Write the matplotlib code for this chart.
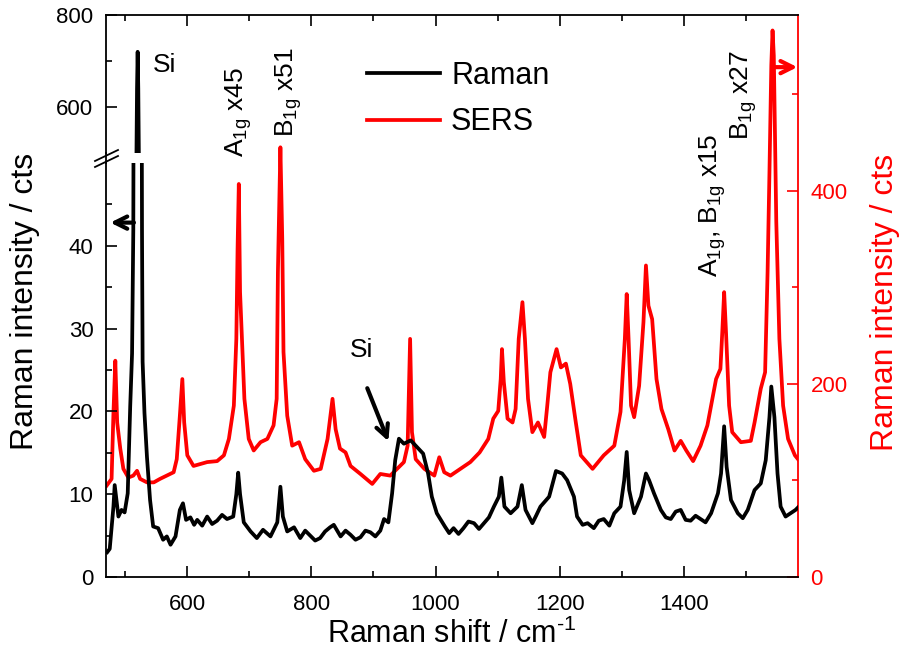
import matplotlib
matplotlib.use('Agg')
import matplotlib.pyplot as plt
from matplotlib.lines import Line2D

plt.rcParams['font.family'] = ['Liberation Sans', 'DejaVu Sans']
plt.rcParams['mathtext.fontset'] = 'custom'
plt.rcParams['mathtext.rm'] = 'Liberation Sans'
plt.rcParams['mathtext.it'] = 'Liberation Sans:italic'

# Raman spectrum (left axis, cts)
raman_x = [471, 475, 481, 483, 489, 494, 499, 504, 508, 511, 513, 515, 517, 519, 520, 521,
           523, 525, 527, 528, 531, 535, 540, 545, 553, 561, 567, 573, 581, 588, 593, 598,
           605, 611, 616, 624, 632, 640, 648, 656, 664, 674, 679, 682, 685, 691, 702, 712,
           722, 734, 745, 750, 754, 761, 772, 782, 790, 798, 806, 814, 822, 830, 836, 847,
           855, 863, 871, 879, 887, 895, 903, 911, 917, 924, 930, 935, 941, 949, 960, 970,
           980, 988, 994, 1002, 1015, 1022, 1029, 1037, 1045, 1053, 1062, 1070, 1078, 1086,
           1094, 1102, 1106, 1111, 1121, 1132, 1139, 1145, 1156, 1162, 1169, 1183, 1194,
           1204, 1212, 1223, 1228, 1237, 1245, 1255, 1263, 1271, 1280, 1288, 1298, 1304,
           1308, 1312, 1320, 1331, 1339, 1344, 1352, 1363, 1371, 1379, 1387, 1395, 1403,
           1411, 1419, 1427, 1435, 1444, 1455, 1460, 1465, 1469, 1476, 1487, 1495, 1503,
           1514, 1524, 1532, 1538, 1541, 1546, 1551, 1556, 1564, 1572, 1580, 1584]
raman_y = [3.0, 3.4, 8.5, 11.1, 7.3, 8.1, 7.8, 10.1, 20.6, 27, 42, 110, 330, 640, 720, 640,
           330, 110, 42, 26, 19.8, 14.5, 9.3, 6.1, 5.9, 4.5, 4.9, 3.9, 4.9, 8.1, 8.9, 6.9,
           7.2, 6.3, 6.9, 6.2, 7.3, 6.4, 6.8, 7.5, 7.0, 7.3, 10, 12.6, 10, 6.6, 5.5, 4.7,
           5.7, 4.9, 6.6, 10.9, 7.3, 5.5, 6.0, 4.7, 5.6, 5.0, 4.4, 4.7, 5.5, 6.0, 6.3, 4.9,
           5.6, 5.1, 4.5, 4.8, 5.6, 5.4, 4.9, 5.6, 7.0, 6.6, 10.1, 14.1, 16.7, 16.1, 16.5, 15.7,
           14.9, 12.5, 9.7, 7.7, 6.1, 5.3, 5.9, 5.2, 5.9, 6.7, 6.5, 5.8, 6.5, 7.2,
           8.5, 9.7, 12.0, 8.5, 7.7, 8.5, 11.1, 8.1, 6.5, 7.4, 8.5, 9.7, 12.8,
           12.5, 11.7, 9.7, 7.3, 6.3, 6.5, 5.9, 6.8, 7.0, 6.2, 7.7, 8.5, 11.7,
           15.1, 10.5, 7.7, 9.7, 12.5, 11.7, 10.1, 8.1, 7.2, 7.0, 7.9, 8.1, 6.9,
           6.8, 7.4, 7.0, 6.6, 7.7, 10.1, 12.5, 18.2, 13.3, 9.3, 7.7, 7.1, 8.1,
           10.5, 11.3, 14.1, 19.3, 23.0, 19.3, 12.5, 8.5, 7.3, 7.7, 8.1, 8.4]

# SERS spectrum (right axis, cts)
sers_x = [470, 478, 481, 484, 487, 492, 497, 505, 513, 519, 524, 535, 546, 556, 567, 578,
          583, 588, 592, 595, 600, 610, 621, 632, 648, 659, 667, 675, 679, 681, 683, 685,
          688, 692, 699, 707, 718, 729, 739, 744, 746, 750, 753, 755, 761, 769, 780, 790,
          804, 815, 826, 834, 839, 846, 855, 863, 879, 898, 911, 927, 938, 949, 955, 959,
          962, 968, 982, 998, 1006, 1014, 1024, 1040, 1056, 1071, 1085, 1093, 1101, 1105,
          1107, 1110, 1116, 1124, 1129, 1134, 1140, 1144, 1149, 1156, 1165, 1175, 1180,
          1185, 1195, 1202, 1210, 1217, 1226, 1234, 1253, 1271, 1288, 1298, 1305, 1308,
          1311, 1315, 1320, 1328, 1335, 1339, 1343, 1349, 1356, 1364, 1375, 1385, 1395,
          1404, 1415, 1427, 1438, 1452, 1459, 1462, 1465, 1468, 1473, 1478, 1492, 1508,
          1514, 1524, 1531, 1535, 1538, 1541, 1543, 1545, 1547, 1549, 1554, 1560, 1568,
          1579, 1584]
sers_y = [94.6, 101.6, 170, 224, 160, 133, 112, 103, 105, 110, 101.6, 98, 98, 101.6, 105, 108.5,
          122, 167, 205, 160, 126, 115, 117, 119, 120, 126, 143, 177.5, 246.6, 340, 407, 295,
          246.6, 184.5, 143, 131, 139.6, 143, 157, 184.5, 316, 445, 350, 233, 167, 136, 139.6, 122,
          110, 112, 143, 184.5, 153, 133, 129, 115, 106.7, 96.4, 106.7, 105, 112, 119, 136, 246.6,
          150, 122, 112, 105, 124, 108.5, 105, 112, 119, 129, 143, 164, 172, 205,
          236, 202, 164, 160, 174, 246.6, 284.6, 246.6, 184.5, 150, 160, 145, 177.5,
          212, 236, 217, 221, 200, 160, 126, 112, 126, 136, 171, 246.6, 293,
          246.6, 177.5, 165.5, 198, 264, 322.6, 281, 267, 205, 174, 153, 131, 141,
          131, 120, 136, 157, 205, 215.5, 253.6, 295, 253.6, 177.5, 150, 139.6, 141,
          160, 195, 212, 316, 419, 530, 566, 540, 455, 368, 246.6, 177.5, 143,
          126, 122]

xticks_major = [600, 800, 1000, 1200, 1400]
xticks_minor = [500, 700, 900, 1100, 1300, 1500]

W, H = 904, 657


def fx(px):
    return px / W


def fy(py):
    return 1 - py / H


fig = plt.figure(figsize=(9.04, 6.57), dpi=100)
left, width = fx(106), fx(798) - fx(106)
ax_r = fig.add_axes([left, fy(577), width, fy(15) - fy(577)])
ax_lo = fig.add_axes([left, fy(577), width, fy(163) - fy(577)], facecolor='none')
ax_hi = fig.add_axes([left, fy(153), width, fy(15) - fy(153)], facecolor='none')

lw = 2.7
l_sers, = ax_r.plot(sers_x, sers_y, color='red', lw=lw)
l_raman, = ax_lo.plot(raman_x, raman_y, color='black', lw=lw)
ax_hi.plot(raman_x, raman_y, color='black', lw=lw)

tick_kw = dict(direction='in', width=1.2, labelsize=16)
for ax in (ax_r, ax_lo, ax_hi):
    ax.set_xlim(469, 1584)
    for s in ax.spines.values():
        s.set_linewidth(1.3)

# right (red) axis
ax_r.set_ylim(0, 582)
for s in ('left', 'top', 'bottom'):
    ax_r.spines[s].set_visible(False)
ax_r.spines['right'].set_color('red')
ax_r.set_xticks([])
ax_r.set_yticks([0, 200, 400])
ax_r.set_yticks([100, 300, 500], minor=True)
ax_r.tick_params(axis='y', which='both', left=False, right=True, labelleft=False,
                 labelright=True, colors='red', pad=9, **tick_kw)
ax_r.tick_params(axis='y', which='major', length=8)
ax_r.tick_params(axis='y', which='minor', length=4.5)

# lower left axis
ax_lo.set_ylim(0, 50)
ax_lo.spines['top'].set_visible(False)
ax_lo.spines['right'].set_visible(False)
ax_lo.set_yticks([0, 10, 20, 30, 40])
ax_lo.set_yticks([5, 15, 25, 35, 45], minor=True)
ax_lo.set_xticks(xticks_major)
ax_lo.set_xticks(xticks_minor, minor=True)
ax_lo.tick_params(axis='both', which='both', right=False, top=False, **tick_kw)
ax_lo.tick_params(axis='y', which='major', length=8, pad=9)
ax_lo.tick_params(axis='y', which='minor', length=4.5)
ax_lo.tick_params(axis='x', which='major', length=8, pad=12)
ax_lo.tick_params(axis='x', which='minor', length=4.5)

# upper left axis (after the break)
ax_hi.set_ylim(500, 800)
ax_hi.spines['bottom'].set_visible(False)
ax_hi.spines['right'].set_visible(False)
ax_hi.set_yticks([600, 800])
ax_hi.set_yticks([700], minor=True)
ax_hi.set_xticks(xticks_major)
ax_hi.set_xticks(xticks_minor, minor=True)
ax_hi.tick_params(axis='x', which='both', top=True, bottom=False, labelbottom=False, **tick_kw)
ax_hi.tick_params(axis='y', which='both', right=False, **tick_kw)
ax_hi.tick_params(which='major', length=8)
ax_hi.tick_params(which='minor', length=4.5)
ax_hi.tick_params(axis='y', pad=9)

# break marks on the left spine
fig.add_artist(Line2D([fx(106), fx(106)], [fy(163), fy(153)], color='black', lw=1.3))
fig.add_artist(Line2D([fx(95), fx(118)], [fy(161), fy(150)], color='black', lw=1.3))
fig.add_artist(Line2D([fx(95), fx(118)], [fy(167), fy(156)], color='black', lw=1.3))

# axis labels
fig.text(fx(452), fy(634), 'Raman shift / cm$^{\\text{-1}}$', ha='center', va='center',
         fontsize=22)
fig.text(fx(25), fy(301), 'Raman intensity / cts', rotation=90, ha='center', va='center',
         fontsize=23)
fig.text(fx(885), fy(302), 'Raman intensity / cts', rotation=90, ha='center', va='center',
         fontsize=23, color='red')

# peak annotations
ann_kw = dict(rotation=90, ha='center', va='bottom', fontsize=19)
fig.text(fx(153), fy(72), 'Si', fontsize=19)
fig.text(fx(239), fy(157), 'A$_{\\rm 1g}$ x45', **ann_kw)
fig.text(fx(289), fy(137), 'B$_{\\rm 1g}$ x51', **ann_kw)
fig.text(fx(713), fy(277), 'A$_{\\rm 1g}$, B$_{\\rm 1g}$ x15', **ann_kw)
fig.text(fx(744), fy(140), 'B$_{\\rm 1g}$ x27', **ann_kw)
fig.text(fx(350), fy(357), 'Si', fontsize=19)

arrow_kw = dict(arrowstyle='->', lw=3, mutation_scale=22, shrinkA=0, shrinkB=0)
ax_lo.annotate('', xy=(924, 16.4), xytext=(890, 22.8), arrowprops=dict(color='black', **arrow_kw))
ax_lo.annotate('', xy=(476, 42.8), xytext=(514, 42.8), arrowprops=dict(color='black', **arrow_kw))
ax_r.annotate('', xy=(1583, 528), xytext=(1546, 528), arrowprops=dict(color='red', **arrow_kw))

fig.legend(handles=[l_raman, l_sers], labels=['Raman', 'SERS'], loc='center left',
           bbox_to_anchor=(fx(367), fy(99)), bbox_transform=fig.transFigure, frameon=False,
           fontsize=22, handlelength=2.4, handletextpad=0.35, labelspacing=0.55,
           borderpad=0, borderaxespad=0)

fig.savefig('out.png', dpi=100)
